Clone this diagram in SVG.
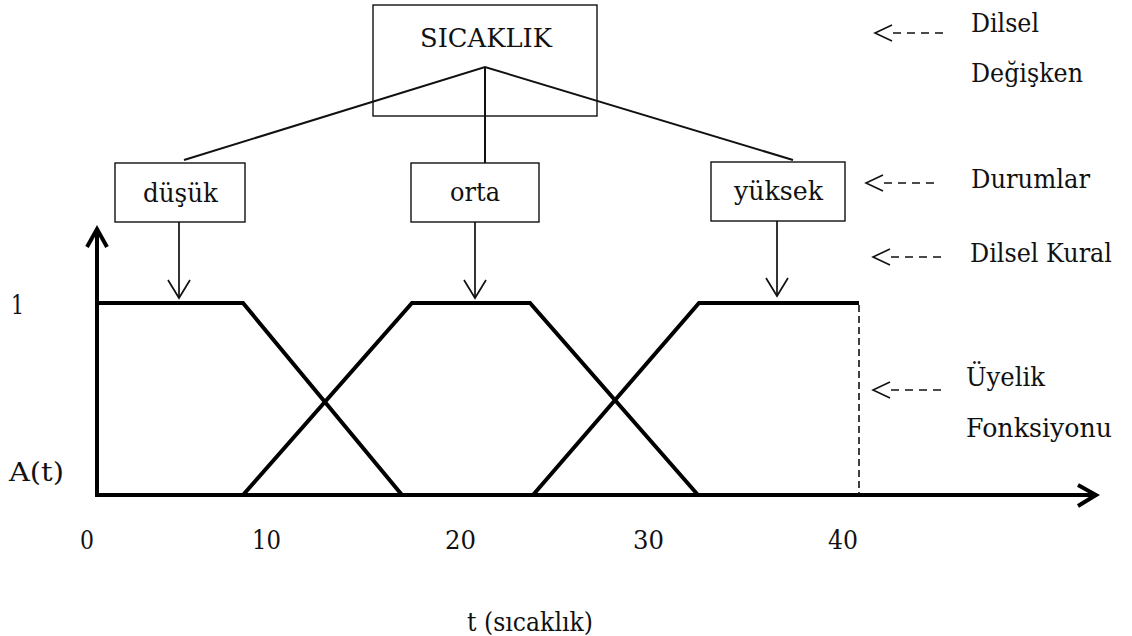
<svg xmlns="http://www.w3.org/2000/svg" width="1132" height="636" viewBox="0 0 1132 636">
  <style>
    text { font-family: "DejaVu Serif", "Liberation Serif", serif; font-size: 26px; fill: #111; }
    .box { fill: #fff; stroke: #111; stroke-width: 1.4; }
    .tree { fill: none; stroke: #111; stroke-width: 2; }
    .down { fill: none; stroke: #111; stroke-width: 1.7; }
    .mf { fill: none; stroke: #000; stroke-width: 4; stroke-linejoin: miter; }
    .axis { fill: none; stroke: #000; stroke-width: 4; }
    .hint { fill: none; stroke: #111; stroke-width: 1.6; }
    .hintdash { fill: none; stroke: #111; stroke-width: 1.6; stroke-dasharray: 8 6; }
  </style>
  <defs>
    <!-- open chevron head, tip pointing along the path direction -->
    <marker id="openHead" markerUnits="userSpaceOnUse" markerWidth="22" markerHeight="26" refX="19" refY="12" orient="auto" viewBox="0 0 22 24">
      <polyline points="1,1 19,12 1,23" fill="none" stroke="#111" stroke-width="1.7"/>
    </marker>
  </defs>

  <!-- linguistic variable -->
  <g id="node-sicaklik">
    <rect class="box" x="373" y="5" width="224" height="111"/>
    <text x="420" y="47" font-size="32" textLength="132" lengthAdjust="spacingAndGlyphs">SICAKLIK</text>
  </g>

  <!-- tree links from the variable to its terms -->
  <g id="connectors">
    <path class="tree" d="M184,160 L485,67 L793,160"/>
    <path class="tree" d="M485,67 V163"/>
    <path class="down" d="M179,222 V298" marker-end="url(#openHead)"/>
    <path class="down" d="M475,222 V298" marker-end="url(#openHead)"/>
    <path class="down" d="M777,221 V296" marker-end="url(#openHead)"/>
  </g>

  <!-- terms -->
  <g id="node-dusuk">
    <rect class="box" x="115" y="163" width="130" height="59"/>
    <text x="143" y="202" textLength="75" lengthAdjust="spacingAndGlyphs">düşük</text>
  </g>
  <g id="node-orta">
    <rect class="box" x="411" y="163" width="128" height="59"/>
    <text x="450" y="201" textLength="50" lengthAdjust="spacingAndGlyphs">orta</text>
  </g>
  <g id="node-yuksek">
    <rect class="box" x="711" y="162" width="134" height="59"/>
    <text x="734" y="200" textLength="89" lengthAdjust="spacingAndGlyphs">yüksek</text>
  </g>

  <!-- membership chart -->
  <g id="chart">
    <path class="axis" d="M97,495 V231"/>
    <polyline class="axis" points="87,247 97,229 107,247" stroke-width="3.5"/>
    <path class="axis" d="M95,495 H1094"/>
    <polyline class="axis" points="1078,485 1096,495 1078,506" stroke-width="3.5"/>
    <path class="mf" d="M97,303 L243,303 L402,495"/>
    <path class="mf" d="M243,495 L412,303 L530,303 L698,495"/>
    <path class="mf" d="M533,495 L699,303 L859,303"/>
    <path d="M859,305 V495" fill="none" stroke="#111" stroke-width="1.6" stroke-dasharray="7 4"/>
    <text x="11" y="314" textLength="13" lengthAdjust="spacingAndGlyphs">1</text>
    <text x="9" y="481" textLength="55" lengthAdjust="spacingAndGlyphs">A(t)</text>
    <text x="80" y="549" textLength="14" lengthAdjust="spacingAndGlyphs">0</text>
    <text x="252" y="549" textLength="29" lengthAdjust="spacingAndGlyphs">10</text>
    <text x="445" y="549" textLength="31" lengthAdjust="spacingAndGlyphs">20</text>
    <text x="633" y="549" textLength="31" lengthAdjust="spacingAndGlyphs">30</text>
    <text x="828" y="549" textLength="30" lengthAdjust="spacingAndGlyphs">40</text>
    <text x="467" y="631" textLength="126" lengthAdjust="spacingAndGlyphs">t (sıcaklık)</text>
  </g>

  <!-- side annotations -->
  <g id="note-variable">
    <polyline class="hint" points="892,25 875,33 892,41"/>
    <path class="hintdash" d="M893,33 H947"/>
    <text x="971" y="32" textLength="68" lengthAdjust="spacingAndGlyphs">Dilsel</text>
    <text x="971" y="82" textLength="112" lengthAdjust="spacingAndGlyphs">Değişken</text>
  </g>
  <g id="note-terms">
    <polyline class="hint" points="883,175 866,183 883,191"/>
    <path class="hintdash" d="M884,183 H939"/>
    <text x="971" y="188" textLength="119" lengthAdjust="spacingAndGlyphs">Durumlar</text>
  </g>
  <g id="note-rule">
    <polyline class="hint" points="890,249 873,257 890,265"/>
    <path class="hintdash" d="M891,257 H945"/>
    <text x="970" y="262" textLength="142" lengthAdjust="spacingAndGlyphs">Dilsel Kural</text>
  </g>
  <g id="note-membership">
    <polyline class="hint" points="890,382 873,390 890,398"/>
    <path class="hintdash" d="M891,390 H945"/>
    <text x="966" y="386" textLength="79" lengthAdjust="spacingAndGlyphs">Üyelik</text>
    <text x="966" y="437" textLength="146" lengthAdjust="spacingAndGlyphs">Fonksiyonu</text>
  </g>
</svg>
